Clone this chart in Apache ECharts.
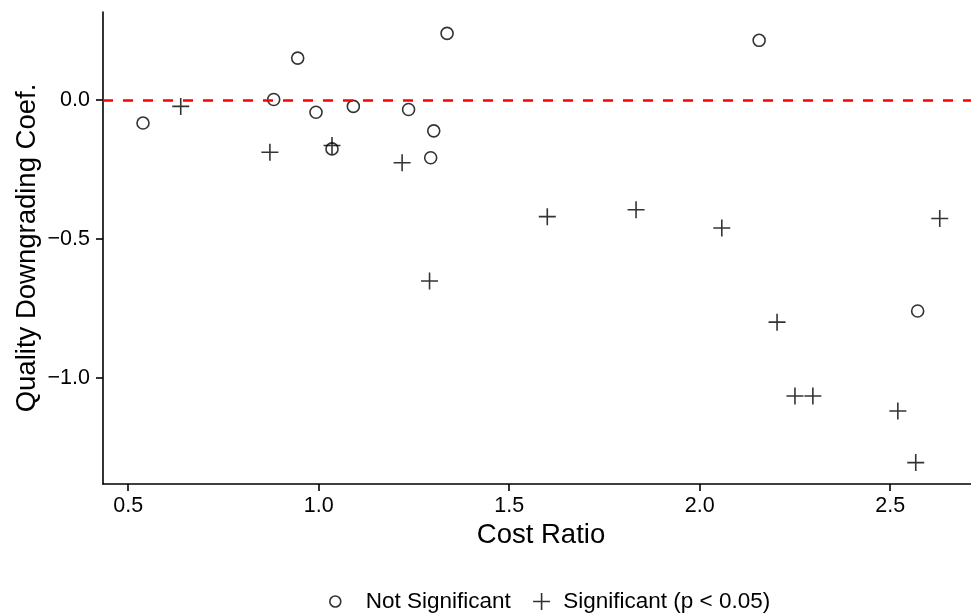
<!DOCTYPE html>
<html>
<head>
<meta charset="utf-8">
<script src="https://cdn.jsdelivr.net/npm/echarts@6/dist/echarts.min.js"></script>
<style>
html,body{margin:0;padding:0;background:#fff;}
#chart{width:971px;height:614px;}
</style>
</head>
<body>
<div id="chart"></div>
<script>
// Not significant points (circles)
const nsX = [0.539, 0.882, 0.945, 0.993, 1.035, 1.091, 1.236, 1.302, 1.294, 1.337, 2.156, 2.572];
const nsY = [-0.083, 0.002, 0.151, -0.044, -0.176, -0.023, -0.034, -0.111, -0.208, 0.240, 0.215, -0.760];
// Significant points (plus)
const sX = [0.638, 0.872, 1.035, 1.219, 1.291, 1.600, 1.833, 2.058, 2.630, 2.203, 2.250, 2.297, 2.520, 2.567];
const sY = [-0.023, -0.188, -0.164, -0.226, -0.652, -0.420, -0.395, -0.461, -0.427, -0.800, -1.066, -1.066, -1.120, -1.306];
const yTicks = [-1.0, -0.5, 0.0];
const xTicks = [0.5, 1.0, 1.5, 2.0, 2.5];
const refLineY = 0;
const seriesNames = ['Not Significant', 'Significant (p < 0.05)'];
const xTitle = 'Cost Ratio';
const yTitle = 'Quality Downgrading Coef.';

const FONT = "'Liberation Sans', Arial, Helvetica, sans-serif";
const nsData = nsX.map((x, i) => [x, nsY[i]]);
const sData = sX.map((x, i) => [x, sY[i]]);
const plusPath = 'path://M8.5,0L8.5,17M0,8.5L17,8.5';
const circleLegendPath = 'path://M0,0M17,17M14,8.5A5.5,5.5,0,1,1,3,8.5A5.5,5.5,0,1,1,14,8.5Z';
const fmt = v => (v < 0 ? '\u2212' : '') + Math.abs(v).toFixed(1);

const chart = echarts.init(document.getElementById('chart'));
chart.setOption({
  animation: false,
  backgroundColor: '#ffffff',
  grid: { left: 103, right: 0, top: 12, bottom: 130, containLabel: false },
  xAxis: {
    type: 'value', min: 0.434, max: 2.712,
    name: xTitle, nameLocation: 'middle', nameGap: 37, nameMoveOverlap: false,
    nameTextStyle: { fontSize: 27.5, color: '#000', fontFamily: FONT, padding: [0, 0, 0, 8] },
    axisLine: { show: true, onZero: false, lineStyle: { color: '#000', width: 1.6 } },
    axisTick: { show: true, length: 7, lineStyle: { color: '#000', width: 1.6 }, customValues: xTicks },
    axisLabel: { fontSize: 21.5, color: '#000', fontFamily: FONT, margin: 11, customValues: xTicks, formatter: fmt },
    splitLine: { show: false }
  },
  yAxis: {
    type: 'value', min: -1.383, max: 0.317,
    name: yTitle, nameLocation: 'middle', nameGap: 62, nameRotate: 90, nameMoveOverlap: false,
    nameTextStyle: { fontSize: 27.5, color: '#000', fontFamily: FONT },
    axisLine: { show: true, onZero: false, lineStyle: { color: '#000', width: 1.6 } },
    axisTick: { show: true, length: 7, lineStyle: { color: '#000', width: 1.6 }, customValues: yTicks },
    axisLabel: { fontSize: 21.5, color: '#000', fontFamily: FONT, margin: 13, customValues: yTicks, formatter: fmt },
    splitLine: { show: false }
  },
  legend: [
    {
      data: [{ name: seriesNames[0], icon: circleLegendPath }],
      left: 326, top: 590, padding: 0,
      itemWidth: 51, itemHeight: 17,
      itemStyle: { borderWidth: 1.6 },
      textStyle: { fontSize: 22.5, color: '#000', fontFamily: FONT },
      selectedMode: false
    },
    {
      data: [{ name: seriesNames[1], icon: plusPath }],
      left: 532.3, top: 590, padding: 0,
      itemWidth: 33.4, itemHeight: 17,
      itemStyle: { borderWidth: 1.6 },
      textStyle: { fontSize: 22.5, color: '#000', fontFamily: FONT },
      selectedMode: false
    }
  ],
  series: [
    {
      name: seriesNames[0], type: 'scatter', data: nsData,
      symbol: 'circle', symbolSize: 12,
      itemStyle: { color: 'rgba(0,0,0,0)', borderColor: '#000', borderWidth: 1.6 },
      markLine: {
        silent: true, symbol: ['none', 'none'], label: { show: false },
        lineStyle: { color: '#ff0000', width: 2.5, type: [10, 10] },
        data: [{ yAxis: refLineY }]
      },
      z: 3
    },
    {
      name: seriesNames[1], type: 'scatter', data: sData,
      symbol: plusPath, symbolSize: 17,
      itemStyle: { color: 'rgba(0,0,0,0)', borderColor: '#000', borderWidth: 1.6 },
      z: 3
    }
  ]
});
</script>
</body>
</html>
